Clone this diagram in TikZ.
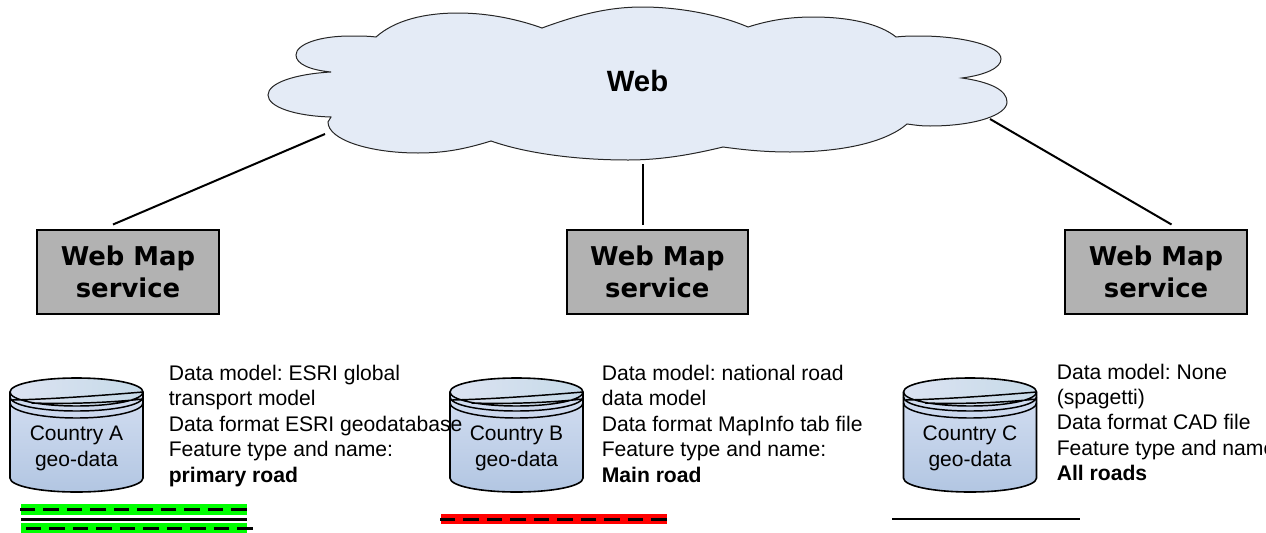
\documentclass[tikz,border=0pt]{standalone}
\usepackage{fontspec}
\setmainfont{Liberation Sans}
\newfontfamily\wmsfont{DejaVu Sans}
\usetikzlibrary{positioning}
\definecolor{cloudfill}{HTML}{E4EBF6}
\definecolor{wmsfill}{HTML}{B2B2B2}
\definecolor{bodytop}{HTML}{D3DEF1}
\definecolor{bodybottom}{HTML}{B2C6E2}
\definecolor{lidleft}{HTML}{DCE3F2}
\definecolor{lidright}{HTML}{C6DAE8}
\tikzset{
    wms/.style={draw=black, line width=1.5pt, fill=wmsfill, minimum width=136pt, minimum height=62.5pt,
        inner sep=0pt, outer sep=0pt, align=center, font=\wmsfont\bfseries\fontsize{19.4}{24}\selectfont},
    link/.style={draw=black, line width=1.5pt},
    dbtext/.style={inner sep=0pt, align=center, font=\frenchspacing\fontsize{15.75}{19.5}\selectfont},
    info/.style={inner sep=0pt, anchor=north west, align=left, font=\frenchspacing\fontsize{15.85}{19.05}\selectfont},
    greenband/.style={draw={rgb,255:red,0;green,255;blue,0}, line width=8pt},
    redband/.style={draw=red, line width=7.7pt},
    roaddash/.style={draw=black, line width=2.25pt, dash pattern=on 11.6pt off 6pt},
    roadline/.style={draw=black, line width=2.25pt},
    geodb/.pic={
        \path[top color=bodytop, bottom color=bodybottom]
            (-66.5,0) -- (66.5,0) -- (66.5,86) .. controls (66.5,94) and (37,100) .. (0,100)
            .. controls (-37,100) and (-66.5,94) .. (-66.5,86) -- cycle;
        \path[left color=lidleft, right color=lidright]
            (-66.5,0) .. controls (-66.5,-8) and (-37,-14) .. (0,-14)
            .. controls (37,-14) and (66.5,-8) .. (66.5,0)
            .. controls (66.5,8) and (37,14) .. (0,14)
            .. controls (-37,14) and (-66.5,8) .. (-66.5,0) -- cycle;
        \draw[line width=1.2pt]
            (-66.5,0) .. controls (-66.5,-8) and (-37,-14) .. (0,-14)
            .. controls (37,-14) and (66.5,-8) .. (66.5,0) -- (66.5,86)
            .. controls (66.5,94) and (37,100) .. (0,100)
            .. controls (-37,100) and (-66.5,94) .. (-66.5,86) -- cycle;
        \draw[line width=1.1pt]
            (-66.5,0) .. controls (-66.5,8) and (-37,14) .. (0,14) .. controls (37,14) and (66.5,8) .. (66.5,0)
            (-66.5,5) .. controls (-66.5,13) and (-37,19) .. (0,19) .. controls (37,19) and (66.5,13) .. (66.5,5)
            (-66.5,11) .. controls (-66.5,19) and (-37,26) .. (0,26) .. controls (37,26) and (66.5,19) .. (66.5,11)
            (-65,8) .. controls (-20,7) and (30,3) .. (66.5,0)
            (-45,11) .. controls (-10,12) and (30,11) .. (66.5,7);
    }
}
\begin{document}
\begin{tikzpicture}[x=0.75pt,y=-0.75pt]
    \useasboundingbox (0,0) rectangle (1266,532);
    % the web
    \draw[fill=cloudfill, draw=black!85, line width=0.75pt]
        (376,37) .. controls (395,20) and (425,13) .. (458,13) .. controls (490,13) and (520,20) .. (542,28)
        .. controls (580,14) and (610,7) .. (642,7) .. controls (680,7) and (720,15) .. (748,27)
        .. controls (770,20) and (790,17) .. (813,17) .. controls (850,17) and (880,24) .. (896,37)
        .. controls (905,36) and (912,36) .. (920,36) .. controls (960,36) and (1001,45) .. (1001,59)
        .. controls (1001,68) and (985,75) .. (962,78)
        .. controls (990,82) and (1007,90) .. (1007,102) .. controls (1007,115) and (975,126) .. (930,126)
        .. controls (920,126) and (915,125) .. (907,124)
        .. controls (885,143) and (840,152) .. (790,152) .. controls (765,152) and (745,150) .. (723,147)
        .. controls (690,155) and (660,160) .. (628,160) .. controls (575,160) and (525,153) .. (491,141)
        .. controls (465,149) and (445,153) .. (418,153) .. controls (370,153) and (328,140) .. (328,122)
        -- (331,117)
        .. controls (295,116) and (268,107) .. (268,95) .. controls (268,83) and (295,74) .. (331,72)
        .. controls (310,70) and (296,64) .. (296,55) .. controls (296,44) and (320,36) .. (350,36)
        .. controls (360,36) and (368,36) .. (376,37) -- cycle;
    \node[inner sep=0pt, font=\bfseries\fontsize{22}{26}\selectfont] (web) at (637.5,81.5) {Web};

    % the services
    \node[wms] (wmsA) at (128,272) {Web Map\\service};
    \node[wms, right=261pt of wmsA] (wmsB) {Web Map\\service};
    \node[wms, right=238pt of wmsB] (wmsC) {Web Map\\service};

    % free ends of the links
    \coordinate (webA) at (325,134);
    \coordinate (webB) at (642.5,164);
    \coordinate (webC) at (990,119);
    \coordinate (topA) at (113,224.5);
    \coordinate (topB) at (642.5,224.5);
    \coordinate (topC) at (1171.5,224.5);
    \draw[link] (topA) -- (webA);
    \draw[link] (topB) -- (webB);
    \draw[link] (topC) -- (webC);

    % the data stores
    \pic at (76.5,392) {geodb};
    \pic at (516.5,392) {geodb};
    \pic at (970,392) {geodb};
    \node[dbtext] (dbA) at (76.5,448) {Country A\\geo-data};
    \node[dbtext] (dbB) at (516.5,448) {Country B\\geo-data};
    \node[dbtext] (dbC) at (970,448) {Country C\\geo-data};

    % what each store holds
    \node[info] (infoA) at (168.5,365) {Data model: ESRI global\\transport model\\Data format ESRI geodatabase\\Feature type and name:\\\textbf{primary road}};
    \node[info] (infoB) at (601.5,365) {Data model: national road\\data model\\Data format MapInfo tab file\\Feature type and name:\\\textbf{Main road}};
    \node[info] (infoC) at (1056.5,363.5) {Data model: None\\(spagetti)\\Data format CAD file\\Feature type and name:\\\textbf{All roads}};

    % the road symbols
    \draw[greenband] (21,509.5) -- (247,509.5);
    \draw[greenband] (21,528) -- (247,528);
    \draw[roaddash] (20,509.5) -- (248,509.5);
    \draw[roadline] (21,519) -- (247,519);
    \draw[roaddash] (26,528) -- (253,528);
    \draw[redband] (441,519.2) -- (667,519.2);
    \draw[roaddash] (440,519.2) -- (667,519.2);
    \draw[link] (892,519) -- (1080,519);
\end{tikzpicture}
\end{document}
